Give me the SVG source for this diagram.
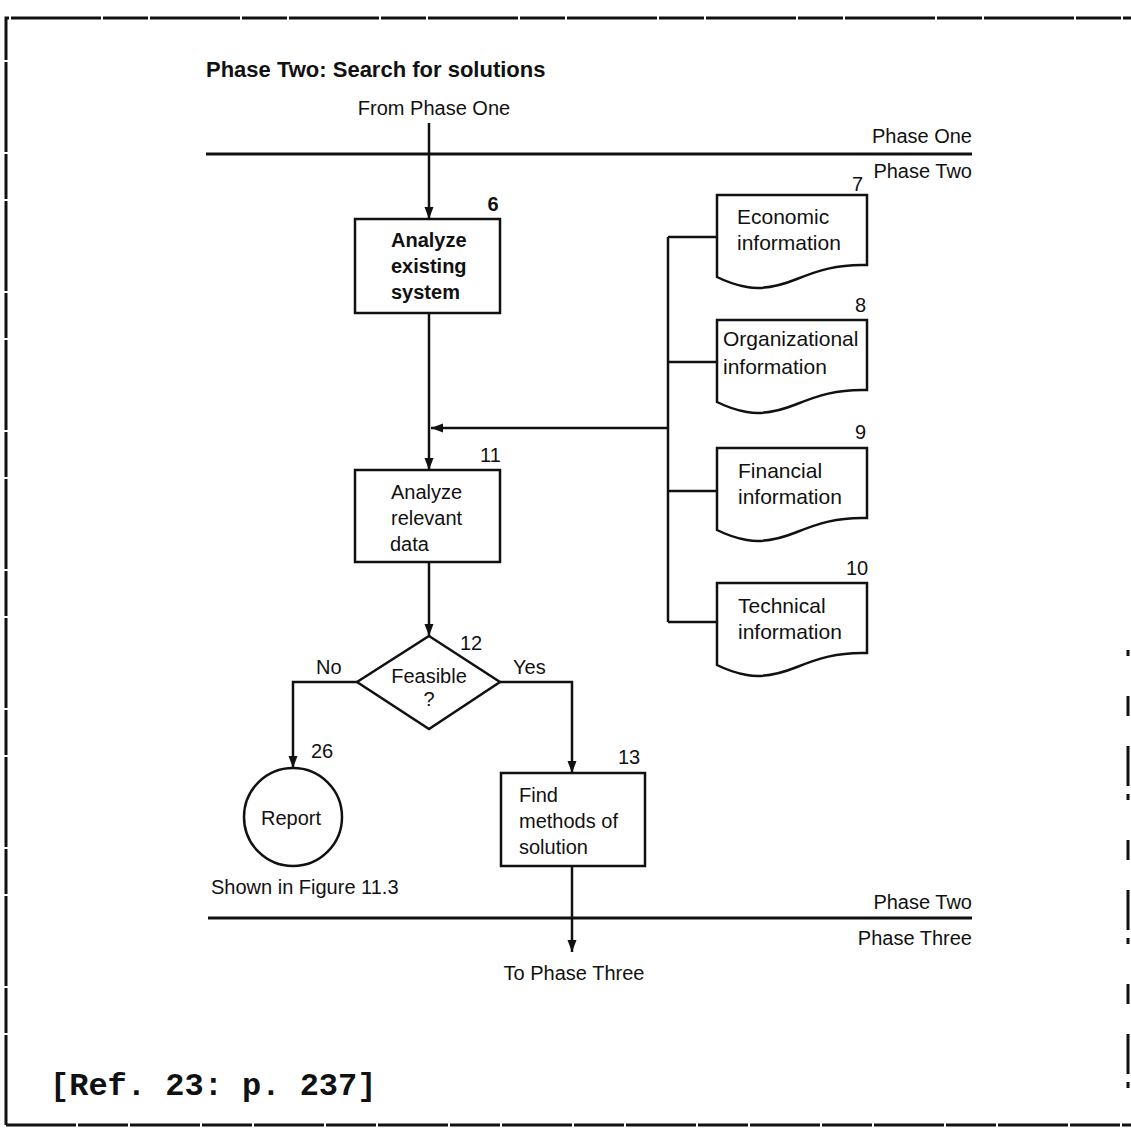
<svg xmlns="http://www.w3.org/2000/svg" xmlns:xlink="http://www.w3.org/1999/xlink" width="1131" height="1130" viewBox="0 0 1131 1130">
<style>
text{font-family:"Liberation Sans",Arial,sans-serif;font-size:20px;fill:#111}
.b{font-weight:bold}
.r{text-anchor:end}
.m{text-anchor:middle}
.doc{font-size:21px}
.title{font-size:22px;font-weight:bold}
.ref{font-family:"Liberation Mono","Courier New",monospace;font-size:32px;font-weight:bold}
.shape{fill:#fff;stroke:#111;stroke-width:2.5}
.conn{fill:none;stroke:#111;stroke-width:2.5}
.phase{stroke:#111;stroke-width:3}
.frame{fill:none;stroke:#111;stroke-width:3}
</style>
<defs>
<marker id="ah" markerUnits="userSpaceOnUse" markerWidth="13" markerHeight="10" refX="12" refY="4.5" orient="auto">
<path d="M0,0 L12,4.5 L0,9 z" fill="#111"/>
</marker>
<path id="docshape" d="M0,0 H150 V70 C120,69 100,76 80,84 C60,92 45,95 30,92 C18,90 8,86 0,82 Z"/>
</defs>
<rect width="1131" height="1130" fill="#fff"/>
<g id="frame">
<path class="frame" d="M6,1125 V18 H1131" stroke-dasharray="90 2 45 2"/>
<path class="frame" d="M6,1125 H1131" stroke-dasharray="70 2 50 2"/>
<path class="frame" d="M1128,650 V1125" stroke-dasharray="6 40 20 30 40 8"/>
</g>
<text class="title" x="206" y="77">Phase Two: Search for solutions</text>
<text class="m" x="434" y="115">From Phase One</text>
<g id="phase-lines">
<line class="phase" x1="206" y1="154" x2="972" y2="154"/>
<text class="r" x="972" y="143">Phase One</text>
<text class="r" x="972" y="178">Phase Two</text>
<line class="phase" x1="208" y1="918" x2="972" y2="918"/>
<text class="r" x="972" y="909">Phase Two</text>
<text class="r" x="972" y="945">Phase Three</text>
</g>
<g id="connectors">
<path class="conn" d="M429,123 V219" marker-end="url(#ah)"/>
<path class="conn" d="M429,313 V470" marker-end="url(#ah)"/>
<path class="conn" d="M668,428 H431" marker-end="url(#ah)"/>
<path class="conn" d="M668,237 V622"/>
<path class="conn" d="M668,237 H717 M668,362 H717 M668,491 H717 M668,622 H717"/>
<path class="conn" d="M429,562 V636" marker-end="url(#ah)"/>
<path class="conn" d="M357,682 H293 V768" marker-end="url(#ah)"/>
<path class="conn" d="M500,682 H572 V773" marker-end="url(#ah)"/>
<path class="conn" d="M572,866 V952" marker-end="url(#ah)"/>
<text x="316" y="674">No</text>
<text x="513" y="674">Yes</text>
</g>
<g id="node6">
<rect class="shape" x="355" y="219" width="145" height="94"/>
<text class="b" x="493" y="211" text-anchor="middle">6</text>
<text class="b" x="391" y="247">Analyze</text>
<text class="b" x="391" y="273">existing</text>
<text class="b" x="391" y="299">system</text>
</g>
<g id="node11">
<rect class="shape" x="355" y="470" width="145" height="92"/>
<text x="480" y="462">11</text>
<text x="391" y="499">Analyze</text>
<text x="391" y="525">relevant</text>
<text x="390" y="551">data</text>
</g>
<g id="node12">
<path class="shape" d="M429,636 L500,682 L429,729 L357,682 Z"/>
<text x="460" y="650">12</text>
<text class="m" x="429" y="683">Feasible</text>
<text class="m" x="429" y="706">?</text>
</g>
<g id="node26">
<circle class="shape" cx="293" cy="817" r="49"/>
<text x="311" y="758">26</text>
<text class="m" x="291" y="825">Report</text>
<text x="211" y="894">Shown in Figure 11.3</text>
</g>
<g id="node13">
<rect class="shape" x="501" y="773" width="144" height="93"/>
<text x="618" y="764">13</text>
<text x="519" y="802">Find</text>
<text x="519" y="828">methods of</text>
<text x="519" y="854">solution</text>
</g>
<g id="node7">
<use href="#docshape" xlink:href="#docshape" class="shape" x="717" y="195"/>
<text x="852" y="191">7</text>
<text class="doc" x="737" y="224">Economic</text>
<text class="doc" x="737" y="250">information</text>
</g>
<g id="node8">
<use href="#docshape" xlink:href="#docshape" class="shape" x="717" y="320"/>
<text x="855" y="312">8</text>
<text class="doc" x="723" y="346">Organizational</text>
<text class="doc" x="723" y="374">information</text>
</g>
<g id="node9">
<use href="#docshape" xlink:href="#docshape" class="shape" x="717" y="448"/>
<text x="855" y="439">9</text>
<text class="doc" x="738" y="478">Financial</text>
<text class="doc" x="738" y="504">information</text>
</g>
<g id="node10">
<use href="#docshape" xlink:href="#docshape" class="shape" x="717" y="583"/>
<text x="846" y="575">10</text>
<text class="doc" x="738" y="613">Technical</text>
<text class="doc" x="738" y="639">information</text>
</g>
<text class="m" x="574" y="980">To Phase Three</text>
<text class="ref" x="50" y="1095">[Ref. 23: p. 237]</text>
</svg>
